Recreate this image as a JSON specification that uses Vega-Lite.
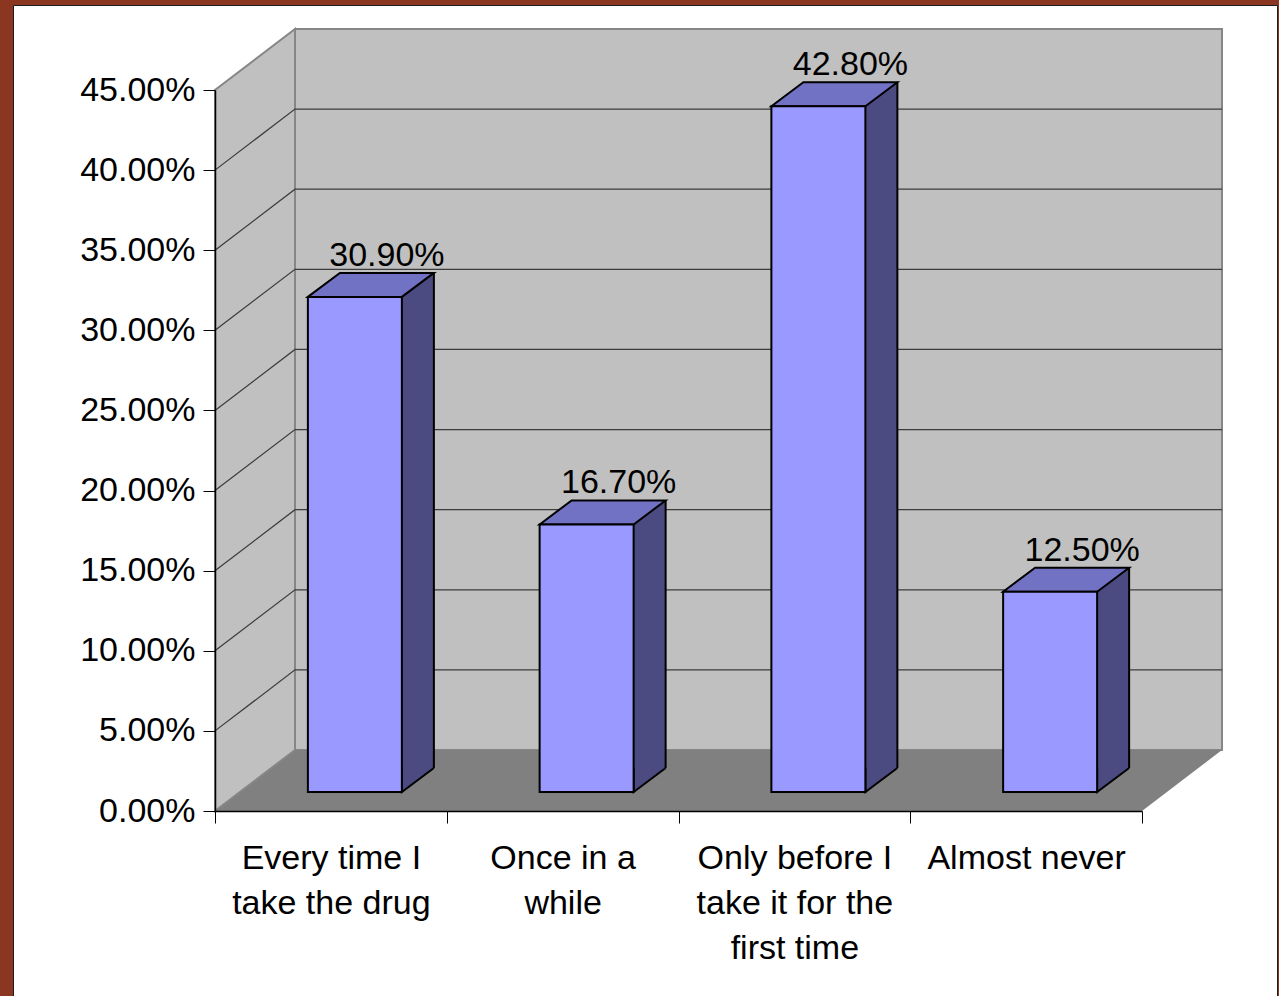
{
  "$schema": "https://vega.github.io/schema/vega-lite/v6.json",
  "autosize": {"type": "none"},
  "width": 1264,
  "height": 991,
  "padding": {"left": 13, "top": 5, "right": 2, "bottom": 0},
  "background": "#8a3620",
  "view": {"fill": "#ffffff", "stroke": "#1c1c1c", "strokeWidth": 1},
  "config": {
    "font": "Liberation Sans",
    "text": {"font": "Liberation Sans"}
  },
  "datasets": {
    "answers": [
      {"answer": "Every time I take the drug", "share": 0.309},
      {"answer": "Once in a while", "share": 0.167},
      {"answer": "Only before I take it for the first time", "share": 0.428},
      {"answer": "Almost never", "share": 0.125}
    ],
    "gridValues": [
      {"v": 0.05}, {"v": 0.10}, {"v": 0.15}, {"v": 0.20},
      {"v": 0.25}, {"v": 0.30}, {"v": 0.35}, {"v": 0.40}
    ],
    "origin": [{"v": 0}]
  },
  "data": {"name": "answers"},
  "encoding": {
    "x": {
      "field": "answer",
      "type": "nominal",
      "sort": null,
      "scale": {
        "domain": ["Every time I take the drug", "Once in a while", "Only before I take it for the first time", "Almost never"],
        "range": [202, 1129],
        "paddingInner": 0,
        "paddingOuter": 0
      },
      "axis": {
        "orient": "bottom",
        "offset": -185,
        "title": null,
        "zindex": 1,
        "tickBand": "extent",
        "tickSize": 12,
        "tickColor": "#000000",
        "tickWidth": 1,
        "domainColor": "#000000",
        "domainWidth": 1.5,
        "labelAngle": 0,
        "labelFont": "Liberation Sans",
        "labelFontSize": 34,
        "labelColor": "#000000",
        "labelPadding": 18,
        "labelLineHeight": 45,
        "labelLimit": 0,
        "labelOverlap": false,
        "labelExpr": "datum.value == 'Every time I take the drug' ? ['Every time I', 'take the drug'] : datum.value == 'Once in a while' ? ['Once in a', 'while'] : datum.value == 'Only before I take it for the first time' ? ['Only before I', 'take it for the', 'first time'] : datum.value"
      }
    },
    "y": {
      "field": "share",
      "type": "quantitative",
      "scale": {"domain": [0, 0.45], "range": [806, 85], "nice": false, "zero": true},
      "axis": {
        "orient": "left",
        "offset": -202,
        "title": null,
        "zindex": 1,
        "grid": false,
        "values": [0, 0.05, 0.1, 0.15, 0.2, 0.25, 0.3, 0.35, 0.4, 0.45],
        "format": ".2%",
        "tickSize": 12,
        "tickColor": "#000000",
        "domainColor": "#000000",
        "domainWidth": 1.5,
        "labelFont": "Liberation Sans",
        "labelFontSize": 34,
        "labelColor": "#000000",
        "labelPadding": 8
      }
    }
  },
  "layer": [
    {
      "data": {"name": "origin"},
      "mark": {"type": "point", "shape": "M80,-61 H1007 V-782 H80 Z", "size": 4, "filled": true, "opacity": 1, "fill": "#c0c0c0", "stroke": "#868686", "strokeWidth": 2},
      "encoding": {
        "x": {"datum": "Every time I take the drug", "type": "nominal", "bandPosition": 0},
        "y": {"field": "v", "type": "quantitative"}
      }
    },
    {
      "data": {"name": "origin"},
      "mark": {"type": "point", "shape": "M0,0 L80,-61 H1007 L927,0 Z", "size": 4, "filled": true, "opacity": 1, "fill": "#808080", "strokeWidth": 0},
      "encoding": {
        "x": {"datum": "Every time I take the drug", "type": "nominal", "bandPosition": 0},
        "y": {"field": "v", "type": "quantitative"}
      }
    },
    {
      "data": {"name": "origin"},
      "mark": {"type": "point", "shape": "M0,0 V-721 L80,-782 V-61 Z", "size": 4, "filled": true, "opacity": 1, "fill": "#c0c0c0", "stroke": "#868686", "strokeWidth": 2},
      "encoding": {
        "x": {"datum": "Every time I take the drug", "type": "nominal", "bandPosition": 0},
        "y": {"field": "v", "type": "quantitative"}
      }
    },
    {
      "data": {"name": "gridValues"},
      "mark": {"type": "point", "shape": "M0,0 L80,-61 H1007", "size": 4, "filled": false, "fill": null, "opacity": 1, "stroke": "#3c3c3c", "strokeWidth": 1.2},
      "encoding": {
        "x": {"datum": "Every time I take the drug", "type": "nominal", "bandPosition": 0},
        "y": {"field": "v", "type": "quantitative"}
      }
    },
    {
      "mark": {"type": "bar", "width": 32, "xOffset": 87, "yOffset": -43, "y2Offset": -43, "fill": "#4b4b81", "strokeWidth": 0},
      "encoding": {"y2": {"datum": 0}}
    },
    {
      "mark": {"type": "point", "shape": "M32,-24 L0,0 L0,-24", "size": 4, "filled": true, "opacity": 1, "fill": "#4b4b81", "stroke": "#000000", "strokeWidth": 2, "xOffset": 71, "yOffset": -19},
      "encoding": {"y": {"datum": 0, "type": "quantitative"}}
    },
    {
      "mark": {"type": "rule", "xOffset": 103, "yOffset": -43, "y2Offset": -43, "stroke": "#000000", "strokeWidth": 2},
      "encoding": {"y2": {"datum": 0}}
    },
    {
      "mark": {"type": "point", "shape": "M0,0 L32,-24 H126 L94,0 Z", "size": 4, "filled": true, "opacity": 1, "fill": "#7272c4", "stroke": "#000000", "strokeWidth": 2, "xOffset": -23, "yOffset": -19}
    },
    {
      "mark": {"type": "bar", "width": 94, "xOffset": 24, "yOffset": -19, "y2Offset": -19, "fill": "#9999ff", "stroke": "#000000", "strokeWidth": 2},
      "encoding": {"y2": {"datum": 0}}
    },
    {
      "mark": {"type": "text", "font": "Liberation Sans", "fontSize": 34, "color": "#000000", "align": "center", "baseline": "alphabetic", "xOffset": 56, "yOffset": -50},
      "encoding": {"text": {"field": "share", "type": "quantitative", "format": ".2%"}}
    }
  ]
}
